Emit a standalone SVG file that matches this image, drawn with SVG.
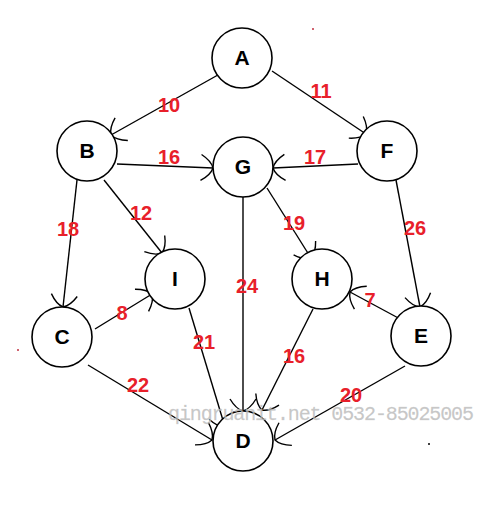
<svg xmlns="http://www.w3.org/2000/svg" width="486" height="510" viewBox="0 0 486 510">
<defs>
<marker id="arr" markerUnits="userSpaceOnUse" markerWidth="40" markerHeight="40" viewBox="-20 -20 40 40" refX="0" refY="0" orient="auto">
<path d="M-12,-13 Q-2,-7 0,0 Q-2,7 -12,13" fill="none" stroke="#000" stroke-width="1.4"/>
</marker>
<style>
.node circle{fill:#fff;stroke:#000;stroke-width:1.6}
.node text{font-family:"Liberation Sans",Arial,sans-serif;font-weight:bold;font-size:21px;text-anchor:middle;fill:#000}
.edges line{stroke:#000;stroke-width:1.4;marker-end:url(#arr)}
.lbl{font-family:"Liberation Sans",Arial,sans-serif;font-weight:bold;font-size:20px;text-anchor:middle;fill:#e8202a}
.wm{font-family:"Liberation Mono","Courier New",monospace;font-size:20px;fill:#b8b8b8;fill-opacity:0.8;stroke:#c8c8c8;stroke-width:0.3;stroke-opacity:0.6}
</style>
</defs>
<rect width="486" height="510" fill="#fff"/>
<g id="connectors" class="edges">
<line x1="225" y1="71" x2="111" y2="135"/>
<line x1="272" y1="71" x2="366" y2="134"/>
<line x1="117" y1="164" x2="213" y2="168"/>
<line x1="358" y1="164" x2="273" y2="168"/>
<line x1="77" y1="180" x2="63" y2="307"/>
<line x1="104" y1="180" x2="162" y2="253"/>
<line x1="267" y1="188" x2="311" y2="258"/>
<line x1="396" y1="180" x2="420" y2="307"/>
<line x1="95" y1="329" x2="152" y2="294"/>
<line x1="243" y1="197" x2="243" y2="411"/>
<line x1="402" y1="320" x2="350" y2="292"/>
<line x1="189" y1="308" x2="225" y2="427"/>
<line x1="313" y1="309" x2="262" y2="410"/>
<line x1="88" y1="365" x2="212" y2="440"/>
<line x1="405" y1="366" x2="275" y2="440"/>
</g>
<g id="labels">
<text class="lbl" x="169" y="112">10</text>
<text class="lbl" x="321" y="98">11</text>
<text class="lbl" x="169" y="164">16</text>
<text class="lbl" x="315" y="164">17</text>
<text class="lbl" x="68" y="236">18</text>
<text class="lbl" x="141" y="220">12</text>
<text class="lbl" x="294" y="230">19</text>
<text class="lbl" x="415" y="235">26</text>
<text class="lbl" x="247" y="293">24</text>
<text class="lbl" x="122" y="320">8</text>
<text class="lbl" x="370" y="307">7</text>
<text class="lbl" x="204" y="349">21</text>
<text class="lbl" x="294" y="363">16</text>
<text class="lbl" x="138" y="392">22</text>
<text class="lbl" x="351" y="402">20</text>
</g>
<g id="A" class="node"><circle cx="242" cy="58" r="30"/><text x="242" y="65">A</text></g>
<g id="B" class="node"><circle cx="87" cy="151" r="30"/><text x="87" y="158">B</text></g>
<g id="G" class="node"><circle cx="243" cy="167" r="30"/><text x="243" y="174">G</text></g>
<g id="F" class="node"><circle cx="387" cy="151" r="30"/><text x="387" y="158">F</text></g>
<g id="I" class="node"><circle cx="175" cy="279" r="30"/><text x="175" y="286">I</text></g>
<g id="H" class="node"><circle cx="322" cy="279" r="30"/><text x="322" y="286">H</text></g>
<g id="C" class="node"><circle cx="62" cy="337" r="30"/><text x="62" y="344">C</text></g>
<g id="E" class="node"><circle cx="421" cy="336" r="30"/><text x="421" y="343">E</text></g>
<g id="D" class="node"><circle cx="243" cy="441" r="30"/><text x="243" y="448">D</text></g>
<text class="wm" x="168" y="420" textLength="306">qingruanit.net 0532-85025005</text>
<circle cx="313" cy="29" r="1" fill="#c03040"/>
<circle cx="18" cy="350" r="1" fill="#c03040"/>
<circle cx="429" cy="444" r="1" fill="#000"/>
</svg>
